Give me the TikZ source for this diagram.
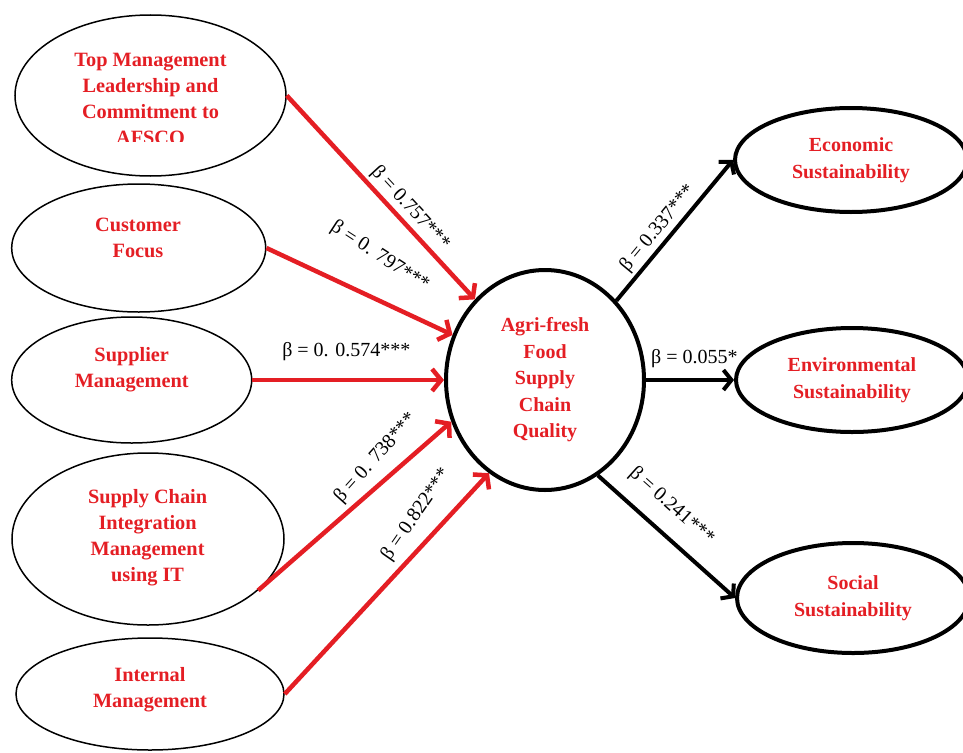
\documentclass[tikz,border=0pt]{standalone}
\usepackage{fontspec}
\setmainfont{Liberation Serif}
\usetikzlibrary{shapes.geometric,arrows.meta}
\definecolor{pathred}{RGB}{228,30,36}

\begin{document}
\begin{tikzpicture}[x=1pt,y=-1pt]
    \useasboundingbox (0,0) rectangle (963,752);
    % constructs on the left
    \begin{scope}[every node/.style={ellipse, draw, line width=1.5pt, inner sep=0pt}]
        \node[minimum width=271pt, minimum height=161pt] (tm) at (150.5,95.5) {};
        \node[minimum width=254pt, minimum height=128pt] (cf) at (138.7,248) {};
        \node[minimum width=240pt, minimum height=126pt] (sm) at (131.7,380) {};
        \node[minimum width=272pt, minimum height=172pt] (scim) at (148,539) {};
        \node[minimum width=268pt, minimum height=112pt] (im) at (150,694) {};
    \end{scope}
    % quality and the three outcomes
    \begin{scope}[every node/.style={ellipse, draw, line width=4pt, inner sep=0pt, text=pathred, align=center,
            font=\fontsize{20}{26.5}\selectfont\bfseries}]
        \node[minimum width=198pt, minimum height=220pt] (afq) at (545,380) {Agri-fresh\\Food\\Supply\\Chain\\Quality};
        \node[minimum width=232pt, minimum height=104pt] (econ) at (851,160) {Economic\\Sustainability};
        \node[minimum width=232pt, minimum height=104pt] (env) at (852,380) {Environmental\\Sustainability};
        \node[minimum width=232pt, minimum height=110pt] (soc) at (853,598) {Social\\Sustainability};
    \end{scope}
    % texts of the left constructs
    \begin{scope}[every node/.style={text=pathred, align=center, inner sep=0pt,
            font=\fontsize{20.3}{26}\selectfont\bfseries}]
        \begin{scope}
            \clip (0,0) rectangle (300,141);
            \node (tmtext) at (150.5,99) {Top Management\\Leadership and\\Commitment to\\AFSCO};
        \end{scope}
        \node (cftext) at (138,238) {Customer\\Focus};
        \node (smtext) at (131.7,370) {Supplier\\Management};
        \node (scimtext) at (147.6,537.5) {Supply Chain\\Integration\\Management\\using IT};
        \node (imtext) at (150,690) {Internal\\Management};
    \end{scope}
    % paths into quality
    \begin{scope}[every edge/.style={draw, pathred, line width=4.5pt, -{Straight Barb[length=9pt,width=22pt]}},
            every node/.style={text=black, inner sep=0pt, sloped, font=\fontsize{20}{24}\selectfont}]
        \path (tm.east) edge node[pos=0.6, above=3pt] (b1) {β = 0.757***} (afq.131);
        \path (cf.east) edge node[pos=0.51, above=29pt, rotate=-8] (b2) {β = 0. 797***} (afq.154);
        \path (sm.east) edge node[pos=0.49, above=17pt] (b3) {β = 0. 0.574***} (afq.west);
        \path (scim.-25) edge node[pos=0.69, above=11pt, rotate=7] (b4) {β = 0. 738***} (afq.204);
        \path (im.east) edge node[pos=0.74, above=14pt, rotate=8] (b5) {β = 0.822***} (afq.239);
    \end{scope}
    % paths out of quality
    \begin{scope}[every edge/.style={draw, line width=4pt, -{Straight Barb[length=8pt,width=20pt]}},
            every node/.style={text=black, inner sep=0pt, sloped, font=\fontsize{20}{24}\selectfont}]
        \path (afq.48) edge node[pos=0.45, above=3pt] (b6) {β = 0.337***} (econ.west);
        \path (afq.east) edge node[pos=0.55, above=10pt] (b7) {β = 0.055*} (env.west);
        \path (afq.-61) edge node[pos=0.41, above=15pt] (b8) {β = 0.241***} (soc.west);
    \end{scope}
\end{tikzpicture}
\end{document}
